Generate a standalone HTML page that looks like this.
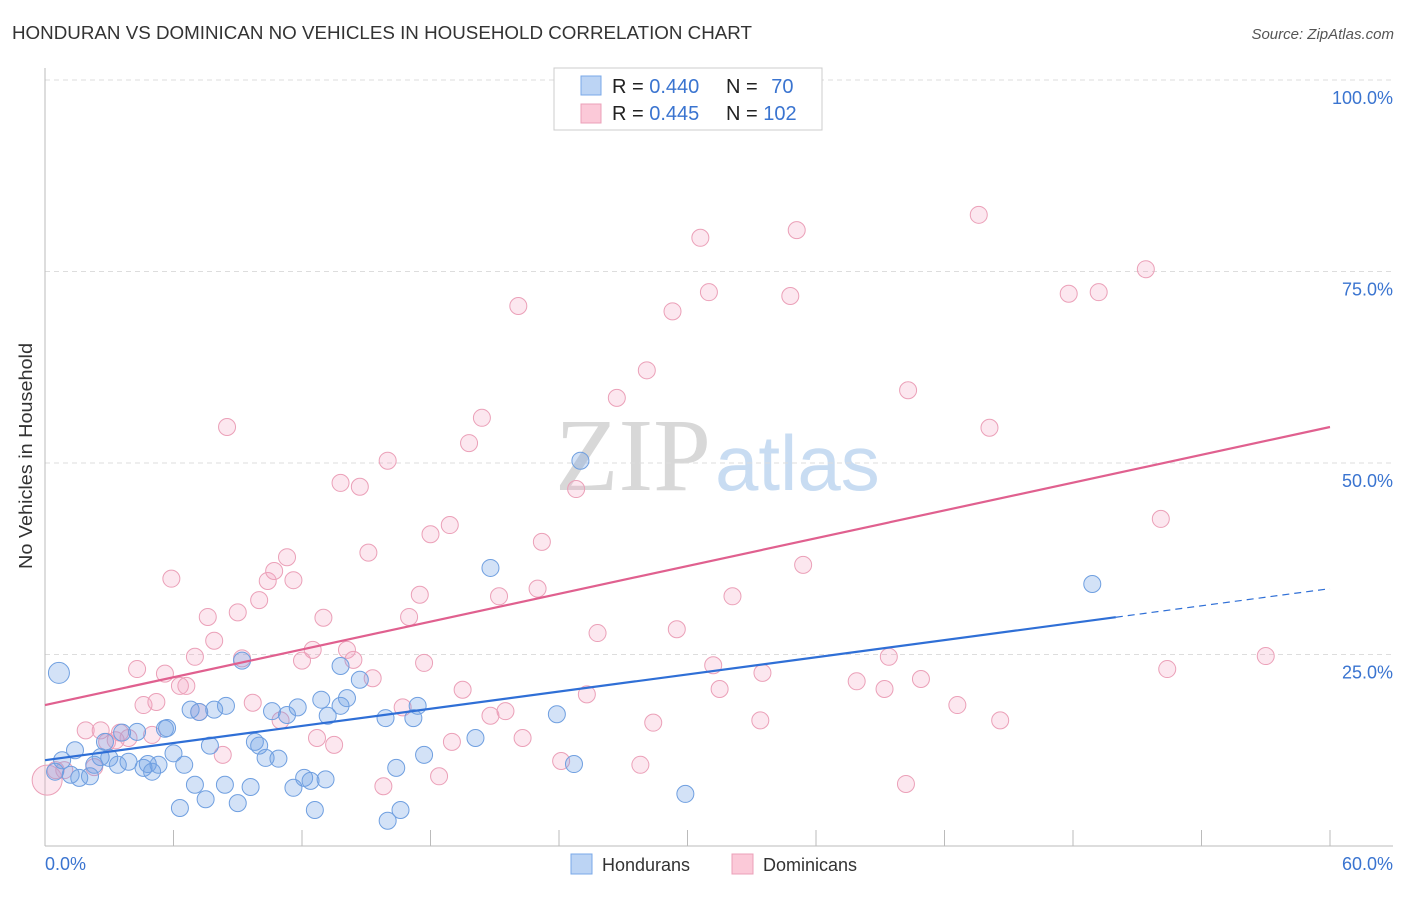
<!DOCTYPE html>
<html><head><meta charset="utf-8"><style>
body{margin:0;background:#fff;font-family:"Liberation Sans",sans-serif;}
svg text{font-family:"Liberation Sans",sans-serif;}
</style></head><body>
<svg id="c" width="1406" height="892">
<text x="12" y="39" font-size="18" fill="#333" textLength="740" lengthAdjust="spacingAndGlyphs">HONDURAN VS DOMINICAN NO VEHICLES IN HOUSEHOLD CORRELATION CHART</text>
<text x="1394" y="39" font-size="15" fill="#555" font-style="italic" text-anchor="end">Source: ZipAtlas.com</text>
<text x="32" y="456" font-size="18" fill="#333" text-anchor="middle" textLength="226" lengthAdjust="spacingAndGlyphs" transform="rotate(-90 32 456)">No Vehicles in Household</text>
<text x="555" y="490" font-size="104" fill="#ddd"><tspan fill="#d8d8d8" font-family="Liberation Serif">ZIP</tspan><tspan fill="#c8dcf2" font-size="78" font-family="Liberation Sans" dx="4">atlas</tspan></text>
<g id="grid"></g><g id="axes"></g><g id="pts"></g><g id="trend"></g>
<g>
<rect x="554" y="68" width="268" height="62" fill="#fff" stroke="#ccc"/>
<rect x="581" y="76" width="20" height="19" fill="#bcd4f4" stroke="#7aa8e8"/>
<rect x="581" y="104" width="20" height="19" fill="#fbc9d8" stroke="#eba0b8"/>
<text x="612" y="93" font-size="20" fill="#222">R = <tspan fill="#3a74d0">0.440</tspan></text>
<text x="726" y="93" font-size="20" fill="#222">N = <tspan fill="#3a74d0" dx="8">70</tspan></text>
<text x="612" y="120" font-size="20" fill="#222">R = <tspan fill="#3a74d0">0.445</tspan></text>
<text x="726" y="120" font-size="20" fill="#222">N = <tspan fill="#3a74d0">102</tspan></text>
</g>
<g>
<rect x="571" y="854" width="21" height="20" fill="#bcd4f4" stroke="#7aa8e8"/>
<text x="602" y="871" font-size="18" fill="#333">Hondurans</text>
<rect x="732" y="854" width="21" height="20" fill="#fbc9d8" stroke="#eba0b8"/>
<text x="763" y="871" font-size="18" fill="#333">Dominicans</text>
</g>
</svg>
<script>
const yTicks=[25,50,75,100];
const yTickLabels=["25.0%","50.0%","75.0%","100.0%"];
const xTicks=[0,6,12,18,24,30,36,42,48,54,60];
const blueX=[0.65,0.47,0.8,1.2,1.4,1.6,2.1,2.3,2.6,2.8,3.0,3.4,3.6,3.9,4.3,4.6,4.8,5.0,5.3,5.6,5.7,6.0,6.3,6.5,6.8,7.0,7.2,7.5,7.7,7.9,8.4,8.45,9.0,9.2,9.6,9.8,10.0,10.3,10.6,10.9,11.3,11.6,11.8,12.1,12.4,12.6,12.9,13.1,13.2,13.8,13.8,14.1,14.7,15.9,16.0,16.4,16.6,17.2,17.4,17.7,20.1,20.8,23.9,24.7,25.0,29.9,48.9];
const blueY=[22.6,9.7,11.2,9.3,12.5,8.9,9.1,10.6,11.6,13.6,11.5,10.6,14.8,11.0,14.9,10.2,10.7,9.7,10.6,15.3,15.4,12.1,4.96,10.6,17.8,8.0,17.5,6.1,13.1,17.8,8.0,18.3,5.6,24.2,7.7,13.6,13.1,11.5,17.6,11.4,17.1,7.6,18.1,8.9,8.5,4.7,19.1,8.7,17.0,23.5,18.3,19.3,21.7,16.7,3.3,10.2,4.7,16.7,18.3,11.9,14.1,36.3,17.2,10.7,50.3,6.8,34.2];
const pinkX=[0.1,0.5,0.9,1.9,2.3,2.6,2.9,3.3,3.5,3.9,4.3,4.6,5.0,5.2,5.6,5.9,6.3,6.6,7.0,7.2,7.6,7.9,8.3,8.5,9.0,9.2,9.7,10.0,10.4,10.7,11.0,11.3,11.6,12.0,12.5,12.7,13.0,13.5,13.8,14.1,14.4,14.7,15.1,15.3,15.8,16.0,16.7,17.0,17.5,17.7,18.0,18.4,18.9,19.0,19.5,19.8,20.4,20.8,21.2,21.5,22.1,22.3,23.0,23.2,24.1,24.8,25.3,25.8,26.7,27.8,28.1,28.4,29.3,29.5,30.6,31.0,31.2,31.5,32.1,33.4,33.5,34.8,35.1,35.4,37.9,39.2,39.4,40.2,40.3,40.9,42.6,43.6,44.1,44.6,47.8,49.2,51.4,52.1,52.4,57.0];
const pinkY=[8.6,9.9,9.9,15.1,10.3,15.1,13.6,13.8,14.8,14.1,23.1,18.4,14.5,18.8,22.5,34.9,20.9,20.9,24.7,17.5,29.9,26.8,11.9,54.7,30.5,24.5,18.7,32.1,34.6,35.9,16.4,37.7,34.7,24.2,25.6,14.1,29.8,13.2,47.4,25.6,24.3,46.9,38.3,21.9,7.8,50.3,18.1,29.9,32.8,23.9,40.7,9.1,41.9,13.6,20.4,52.6,55.9,17.0,32.6,17.6,70.5,14.1,33.6,39.7,11.1,46.6,19.8,27.8,58.5,10.6,62.1,16.1,69.8,28.3,79.4,72.3,23.6,20.5,32.6,16.4,22.6,71.8,80.4,36.7,21.5,20.5,24.7,8.1,59.5,21.8,18.4,82.4,54.6,16.4,72.1,72.3,75.3,42.7,23.1,24.8];
const blueLine=[11.2,33.6];
const pinkLine=[18.4,54.7];
const X=v=>45+v/60*1285, Y=v=>846-v*7.66;
const NS="http://www.w3.org/2000/svg";
function mk(tag,parent,attrs){const e=document.createElementNS(NS,tag);for(const k in attrs)e.setAttribute(k,attrs[k]);document.getElementById(parent).appendChild(e);return e;}
yTicks.forEach((t,i)=>{
 const l=mk('line','grid',{x1:45,x2:1393,y1:Y(t),y2:Y(t),stroke:'#ddd','stroke-dasharray':'5,4'});
 
 
 const tx=mk('text','grid',{x:1393,y:Y(t)+24,'font-size':18,fill:'#3a74d0','text-anchor':'end'});
 tx.textContent=yTickLabels[i];
 
 
});
const ax=mk('line','axes',{x1:45,x2:45,y1:68,y2:846,stroke:'#bbb'});


const bx=mk('line','axes',{x1:45,x2:1393,y1:846,y2:846,stroke:'#bbb'});


xTicks.forEach(t=>{
 const l=mk('line','axes',{x1:X(t),x2:X(t),y1:830,y2:846,stroke:'#bbb'});
 
 
});
const xl0=mk('text','axes',{x:45,y:870,'font-size':18,fill:'#3a74d0'});xl0.textContent='0.0%';


const xl1=mk('text','axes',{x:1393,y:870,'font-size':18,fill:'#3a74d0','text-anchor':'end'});xl1.textContent='60.0%';


pinkX.forEach((v,i)=>{
 const c=mk('circle','pts',{cx:X(v),cy:Y(pinkY[i]),r:i==0?15:8.5,fill:'rgba(245,160,190,0.25)',stroke:'#eba0b8','stroke-width':1});
 
 
});
blueX.forEach((v,i)=>{
 const c=mk('circle','pts',{cx:X(v),cy:Y(blueY[i]),r:i==0?10.5:8.5,fill:'rgba(110,160,230,0.3)',stroke:'#6f9fe0','stroke-width':1});
 
 
});
const bAt=v=>blueLine[0]+(blueLine[1]-blueLine[0])*v/60;
const tb=mk('line','trend',{x1:X(0),y1:Y(bAt(0)),x2:X(50),y2:Y(bAt(50)),stroke:'#2f6fd6','stroke-width':2.2});


const tbd=mk('line','trend',{x1:X(50),y1:Y(bAt(50)),x2:X(60),y2:Y(bAt(60)),stroke:'#2f6fd6','stroke-width':1.2,'stroke-dasharray':'7,5'});


const tp=mk('line','trend',{x1:X(0),y1:Y(pinkLine[0]),x2:X(60),y2:Y(pinkLine[1]),stroke:'#e0608f','stroke-width':2.2});


</script>
</body></html>
